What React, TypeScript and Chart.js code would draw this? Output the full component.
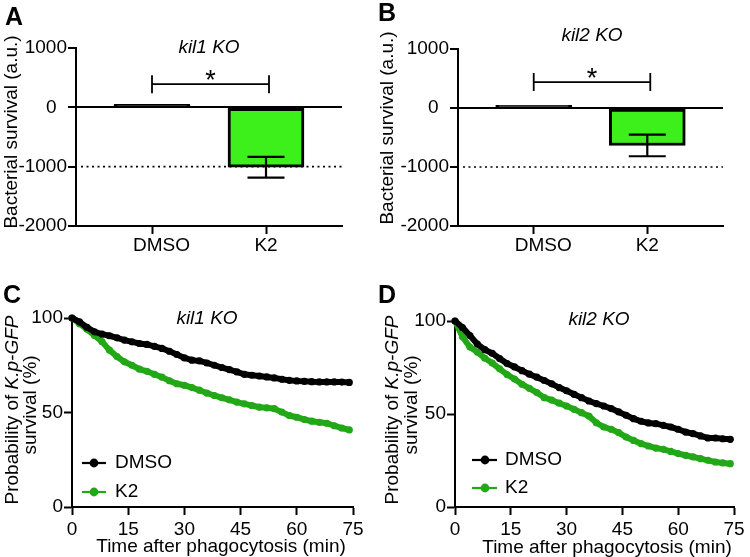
import React, { useEffect, useRef } from 'react';
import { Chart, registerables } from 'chart.js';

Chart.register(...registerables);

// ---------------- DATA ----------------
const BAR_CATEGORIES = ['DMSO', 'K2'];
const A_MEANS = [50, -1010];
const A_SEM = [0, 175];
const B_MEANS = [45, -635];
const B_SEM = [0, 183];
const BAR_Y_TICKS = [-2000, -1000, 0, 1000];
const BAR_REF_LINE = -1000;
const A_BRACKET = 390;
const B_BRACKET = 440;

const KM_TIMES = [0, 2, 4, 6, 8, 10, 12, 14, 16, 18, 20, 22, 24, 26, 28, 30, 32, 34, 36, 38, 40, 42, 44, 46, 48, 50, 52, 54, 56, 58, 60, 62, 64, 66, 68, 70, 72, 74];
const C_DMSO = [100, 98, 95, 92.7, 91.5, 90.6, 89.5, 88.3, 87.4, 86.5, 86, 85, 83.9, 82.4, 80.7, 78.9, 77.7, 77.3, 76.2, 75, 73.8, 72.7, 71.5, 70.2, 69.7, 69.3, 68.8, 68.3, 67.6, 67, 66.7, 66.5, 66.3, 66.2, 66.2, 66.2, 66.1, 65.9];
const C_K2 = [100, 97, 94, 90.8, 87.5, 83, 79.6, 76.8, 75, 72.9, 71.8, 70.2, 68.7, 66.8, 65.2, 64.4, 63.2, 61.8, 60.3, 59, 57.8, 56.7, 55.5, 54.6, 53.7, 52.8, 52.5, 52, 50.2, 48.4, 47.5, 46.3, 45.4, 44.8, 44.3, 43, 41.8, 40.8];
const D_DMSO = [100, 96.5, 92.2, 87.6, 84.6, 82.6, 79.8, 77.1, 75.3, 73.3, 71.4, 69.8, 68, 66.2, 64.2, 62.5, 60.6, 58.8, 57, 55.6, 54.3, 52.9, 51.1, 49.3, 47.5, 46.1, 45.2, 44.8, 43.9, 43, 41.8, 40.3, 39.4, 38.2, 37.1, 37.1, 36.7, 36.4];
const D_K2 = [100, 91.5, 86, 83.3, 80, 77.4, 74.3, 71.2, 68.8, 66, 63.8, 61.5, 58.8, 57.5, 55.8, 54.3, 52.5, 50.7, 48.9, 45.3, 43, 41.8, 40, 37.6, 35.8, 34.1, 32.8, 31.7, 31, 29.9, 28.7, 27.8, 26.9, 26, 25.1, 24.2, 23.7, 23.3];
const KM_X_TICKS = [0, 15, 30, 45, 60, 75];
const KM_Y_TICKS = [0, 50, 100];
const SERIES_NAMES = ['DMSO', 'K2'];

// ---------------- STYLE ----------------
const FAMILY = '"Liberation Sans", Arial, Helvetica, sans-serif';
const FS = 19;
const BAR_GREEN = '#3EF01B';
const LINE_GREEN = '#22A816';
const BLACK = '#000000';

function font(size: number, italic = false, bold = false) {
  return `${italic ? 'italic ' : ''}${bold ? 'bold ' : ''}${size}px ${FAMILY}`;
}

function drawRotated(ctx: CanvasRenderingContext2D, segs: { t: string; i?: boolean }[], cx: number, cy: number) {
  ctx.save();
  ctx.translate(cx, cy);
  ctx.rotate(-Math.PI / 2);
  ctx.fillStyle = BLACK;
  ctx.textBaseline = 'middle';
  ctx.textAlign = 'left';
  let total = 0;
  const widths = segs.map((s) => {
    ctx.font = font(FS, !!s.i);
    const w = ctx.measureText(s.t).width;
    total += w;
    return w;
  });
  let x = -total / 2;
  segs.forEach((s, k) => {
    ctx.font = font(FS, !!s.i);
    ctx.fillText(s.t, x, 0);
    x += widths[k];
  });
  ctx.restore();
}

function drawText(ctx: CanvasRenderingContext2D, t: string, x: number, y: number, f: string, align: CanvasTextAlign = 'center', baseline: CanvasTextBaseline = 'middle') {
  ctx.save();
  ctx.font = f;
  ctx.fillStyle = BLACK;
  ctx.textAlign = align;
  ctx.textBaseline = baseline;
  ctx.fillText(t, x, y);
  ctx.restore();
}

const tickFont = { family: FAMILY, size: FS };

interface BarPanel {
  means: number[];
  sem: number[];
  bracket: number;
  title: string;
  titleX: number;
  titleY: number;
  letter: string;
  letterX: number;
  letterY: number;
  yTitleX: number;
  yTitleY: number;
  yW: number;
  top: number;
  right: number;
  xH: number;
}

function barConfig(p: BarPanel): any {
  const decor = {
    id: 'decor' + p.letter,
    afterDatasetsDraw(chart: any) {
      const ctx: CanvasRenderingContext2D = chart.ctx;
      const xs = chart.scales.x;
      const ys = chart.scales.y;
      const area = chart.chartArea;
      // dotted reference line
      ctx.save();
      ctx.strokeStyle = BLACK;
      ctx.lineWidth = 1.6;
      ctx.setLineDash([2, 3.5]);
      const yr = ys.getPixelForValue(BAR_REF_LINE);
      ctx.beginPath();
      ctx.moveTo(area.left + 5, yr);
      ctx.lineTo(area.right, yr);
      ctx.stroke();
      ctx.restore();
      // error bars
      ctx.save();
      ctx.strokeStyle = BLACK;
      ctx.lineWidth = 2.2;
      p.means.forEach((m, i) => {
        if (!p.sem[i]) return;
        const x = xs.getPixelForValue(i + 1);
        const y1 = ys.getPixelForValue(m + p.sem[i]);
        const y2 = ys.getPixelForValue(m - p.sem[i]);
        ctx.beginPath();
        ctx.moveTo(x, y1);
        ctx.lineTo(x, y2);
        ctx.moveTo(x - 18.5, y1);
        ctx.lineTo(x + 18.5, y1);
        ctx.moveTo(x - 18.5, y2);
        ctx.lineTo(x + 18.5, y2);
        ctx.stroke();
      });
      // significance bracket
      const bx1 = xs.getPixelForValue(1);
      const bx2 = xs.getPixelForValue(2) + 3;
      const by = ys.getPixelForValue(p.bracket);
      ctx.lineWidth = 1.8;
      ctx.beginPath();
      ctx.moveTo(bx1, by);
      ctx.lineTo(bx2, by);
      ctx.moveTo(bx1, by - 9);
      ctx.lineTo(bx1, by + 9);
      ctx.moveTo(bx2, by - 9);
      ctx.lineTo(bx2, by + 9);
      ctx.stroke();
      ctx.restore();
      drawText(ctx, '*', (bx1 + bx2) / 2, by + 5, font(27, false, false), 'center', 'alphabetic');
      // title, letter, axis title
      drawText(ctx, p.title, p.titleX, p.titleY, font(FS, true));
      drawText(ctx, p.letter, p.letterX, p.letterY, font(25, false, true), 'left', 'alphabetic');
      drawRotated(ctx, [{ t: 'Bacterial survival (a.u.)' }], p.yTitleX, p.yTitleY);
    },
  };
  return {
    type: 'bar',
    data: {
      datasets: [
        {
          data: BAR_CATEGORIES.map((_, i) => ({ x: i + 1, y: p.means[i] })),
          backgroundColor: [BLACK, BAR_GREEN],
          borderColor: BLACK,
          borderWidth: 3,
          borderSkipped: false,
          barThickness: 76,
        },
      ],
    },
    options: {
      animation: false,
      responsive: false,
      devicePixelRatio: 1,
      layout: { padding: { left: 0, top: p.top, right: p.right, bottom: 0 } },
      plugins: { legend: { display: false }, tooltip: { enabled: false }, title: { display: false } },
      scales: {
        x: {
          type: 'linear',
          min: 1 / 3,
          max: 8 / 3,
          offset: false,
          afterBuildTicks: (s: any) => {
            s.ticks = BAR_CATEGORIES.map((_, i) => ({ value: i + 1 }));
          },
          afterFit: (s: any) => {
            s.height = p.xH;
          },
          ticks: {
            callback: (v: any) => {
              const i = Math.round(v) - 1;
              const name = BAR_CATEGORIES[i] ?? '';
              return i === 0 ? '\u2002\u2002' + name : name;
            },
            font: tickFont,
            color: BLACK,
            padding: 0,
            maxRotation: 0,
            autoSkip: false,
          },
          grid: { display: true, drawOnChartArea: false, tickLength: 8, tickColor: BLACK, tickWidth: 2, offset: false },
          border: { display: true, color: BLACK, width: 2 },
        },
        y: {
          type: 'linear',
          min: BAR_Y_TICKS[0],
          max: BAR_Y_TICKS[BAR_Y_TICKS.length - 1],
          afterBuildTicks: (s: any) => {
            s.ticks = BAR_Y_TICKS.map((v) => ({ value: v }));
          },
          afterFit: (s: any) => {
            s.width = p.yW;
          },
          ticks: {
            callback: (v: any) => (v === 0 ? '0  ' : String(v)),
            font: tickFont,
            color: BLACK,
            padding: 1,
          },
          grid: {
            display: true,
            drawOnChartArea: true,
            color: (c: any) => (c.tick && c.tick.value === 0 ? BLACK : 'rgba(0,0,0,0)'),
            lineWidth: 2,
            tickLength: 8,
            tickColor: BLACK,
            tickWidth: 2,
          },
          border: { display: true, color: BLACK, width: 2 },
        },
      },
    },
    plugins: [decor],
  };
}

interface KmPanel {
  dmso: number[];
  k2: number[];
  title: string;
  titleX: number;
  titleY: number;
  letter: string;
  letterX: number;
  letterY: number;
  y1X: number;
  y1Y: number;
  y2X: number;
  y2Y: number;
  xTitleX: number;
  xTitleY: number;
  legX1: number;
  legX2: number;
  legDot: number;
  legText: number;
  legY: number[];
  yW: number;
  top: number;
  right: number;
  xH: number;
}

function kmConfig(p: KmPanel): any {
  const colors = [BLACK, LINE_GREEN];
  const decor = {
    id: 'decor' + p.letter,
    afterDraw(chart: any) {
      const ctx: CanvasRenderingContext2D = chart.ctx;
      drawText(ctx, p.title, p.titleX, p.titleY, font(FS, true));
      drawText(ctx, p.letter, p.letterX, p.letterY, font(25, false, true), 'left', 'alphabetic');
      drawRotated(ctx, [{ t: 'Probability of ' }, { t: 'K.p-GFP', i: true }], p.y1X, p.y1Y);
      drawRotated(ctx, [{ t: 'survival (%)' }], p.y2X, p.y2Y);
      drawText(ctx, 'Time after phagocytosis (min)', p.xTitleX, p.xTitleY, font(FS));
      SERIES_NAMES.forEach((name, i) => {
        const y = p.legY[i];
        ctx.save();
        ctx.strokeStyle = colors[i];
        ctx.fillStyle = colors[i];
        ctx.lineWidth = 2.2;
        ctx.beginPath();
        ctx.moveTo(p.legX1, y);
        ctx.lineTo(p.legX2, y);
        ctx.stroke();
        ctx.beginPath();
        ctx.arc(p.legDot, y, 4.4, 0, Math.PI * 2);
        ctx.fill();
        ctx.restore();
        drawText(ctx, name, p.legText, y, font(FS), 'left', 'middle');
      });
    },
  };
  const mk = (vals: number[], color: string) => ({
    data: KM_TIMES.map((t, i) => ({ x: t, y: vals[i] })),
    borderColor: color,
    backgroundColor: color,
    borderWidth: 6,
    pointRadius: 3.6,
    pointBorderWidth: 0,
    pointBackgroundColor: color,
    tension: 0,
    clip: false,
    fill: false,
  });
  return {
    type: 'line',
    data: { datasets: [mk(p.dmso, BLACK), mk(p.k2, LINE_GREEN)] },
    options: {
      animation: false,
      responsive: false,
      devicePixelRatio: 1,
      layout: { padding: { left: 0, top: p.top, right: p.right, bottom: 0 } },
      plugins: { legend: { display: false }, tooltip: { enabled: false }, title: { display: false } },
      scales: {
        x: {
          type: 'linear',
          min: KM_X_TICKS[0],
          max: KM_X_TICKS[KM_X_TICKS.length - 1],
          afterBuildTicks: (s: any) => {
            s.ticks = KM_X_TICKS.map((v) => ({ value: v }));
          },
          afterFit: (s: any) => {
            s.height = p.xH;
          },
          ticks: { callback: (v: any) => String(v), font: tickFont, color: BLACK, padding: 3, maxRotation: 0, autoSkip: false },
          grid: { display: true, drawOnChartArea: false, tickLength: 8, tickColor: BLACK, tickWidth: 2 },
          border: { display: true, color: BLACK, width: 2 },
        },
        y: {
          type: 'linear',
          min: KM_Y_TICKS[0],
          max: KM_Y_TICKS[KM_Y_TICKS.length - 1],
          afterBuildTicks: (s: any) => {
            s.ticks = KM_Y_TICKS.map((v) => ({ value: v }));
          },
          afterFit: (s: any) => {
            s.width = p.yW;
          },
          ticks: { callback: (v: any) => String(v), font: tickFont, color: BLACK, padding: 1 },
          grid: { display: true, drawOnChartArea: false, tickLength: 8, tickColor: BLACK, tickWidth: 2 },
          border: { display: true, color: BLACK, width: 2 },
        },
      },
    },
    plugins: [decor],
  };
}

function Panel({ left, top, width, height, make }: { left: number; top: number; width: number; height: number; make: () => any }) {
  const ref = useRef<HTMLCanvasElement>(null);
  useEffect(() => {
    const chart = new Chart(ref.current as HTMLCanvasElement, make());
    return () => chart.destroy();
  }, []);
  return <canvas ref={ref} width={width} height={height} style={{ position: 'absolute', left, top, width, height }} />;
}

export default function App() {
  return (
    <div style={{ position: 'fixed', left: 0, top: 0, width: 750, height: 557, background: '#ffffff', overflow: 'hidden' }}>
      <Panel
        left={0}
        top={0}
        width={375}
        height={280}
        make={() =>
          barConfig({
            means: A_MEANS, sem: A_SEM, bracket: A_BRACKET, title: 'kil1 KO', titleX: 209, titleY: 48,
            letter: 'A', letterX: 5, letterY: 25, yTitleX: 12, yTitleY: 132, yW: 76, top: 48, right: 33, xH: 54,
          })
        }
      />
      <Panel
        left={375}
        top={0}
        width={375}
        height={280}
        make={() =>
          barConfig({
            means: B_MEANS, sem: B_SEM, bracket: B_BRACKET, title: 'kil2 KO', titleX: 217, titleY: 36,
            letter: 'B', letterX: 3, letterY: 21, yTitleX: 13, yTitleY: 128, yW: 83, top: 49, right: 27, xH: 54,
          })
        }
      />
      <Panel
        left={0}
        top={280}
        width={375}
        height={277}
        make={() =>
          kmConfig({
            dmso: C_DMSO, k2: C_K2, title: 'kil1 KO', titleX: 207, titleY: 39, letter: 'C', letterX: 3, letterY: 23,
            y1X: 13, y1Y: 130, y2X: 31, y2Y: 125, xTitleX: 221, xTitleY: 267,
            legX1: 82, legX2: 106, legDot: 94, legText: 115, legY: [183, 212],
            yW: 72, top: 38, right: 22, xH: 50,
          })
        }
      />
      <Panel
        left={375}
        top={280}
        width={375}
        height={277}
        make={() =>
          kmConfig({
            dmso: D_DMSO, k2: D_K2, title: 'kil2 KO', titleX: 224, titleY: 40, letter: 'D', letterX: 3, letterY: 23,
            y1X: 18, y1Y: 130, y2X: 37, y2Y: 125, xTitleX: 232, xTitleY: 268,
            legX1: 97, legX2: 122, legDot: 110, legText: 130, legY: [180, 208],
            yW: 80, top: 41, right: 16, xH: 50,
          })
        }
      />
    </div>
  );
}
